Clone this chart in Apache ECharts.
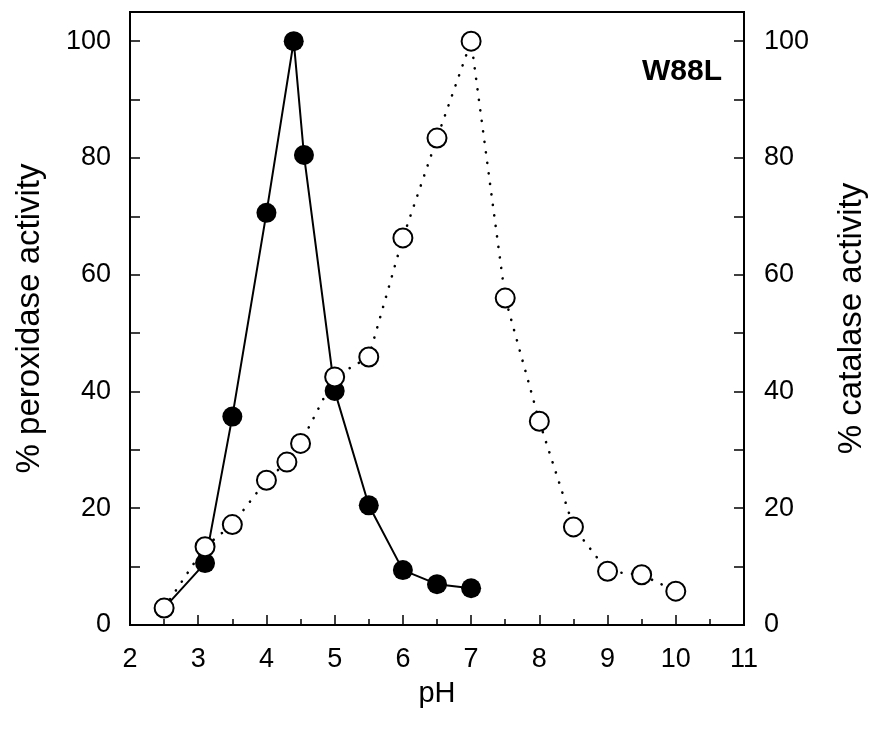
<!DOCTYPE html>
<html>
<head>
<meta charset="utf-8">
<script src="https://cdn.jsdelivr.net/npm/echarts@6/dist/echarts.min.js"></script>
<style>html,body{margin:0;padding:0;background:#fff;}#c{width:876px;height:745px;}</style>
</head>
<body>
<div id="c"></div>
<script>
const peroxPH = [2.5, 3.1, 3.5, 4.0, 4.4, 4.55, 5.0, 5.5, 6.0, 6.5, 7.0];
const peroxVal = [2.9, 10.6, 35.7, 70.6, 100, 80.5, 40.1, 20.5, 9.4, 7.0, 6.3];
const catPH = [2.5, 3.1, 3.5, 4.0, 4.3, 4.5, 5.0, 5.5, 6.0, 6.5, 7.0, 7.5, 8.0, 8.5, 9.0, 9.5, 10.0];
const catVal = [2.9, 13.4, 17.2, 24.8, 27.9, 31.1, 42.5, 45.9, 66.3, 83.4, 100, 56.0, 34.9, 16.8, 9.2, 8.6, 5.8];
const xTicks = [2, 3, 4, 5, 6, 7, 8, 9, 10, 11];
const yTicks = [0, 20, 40, 60, 80, 100];
const label = "W88L";

const font = "'Liberation Sans', Arial, Helvetica, sans-serif";
const chart = echarts.init(document.getElementById('c'), null, {renderer: 'canvas'});
const axisCommon = {
  axisLine: {show: true, onZero: false, lineStyle: {color: '#000', width: 2}},
  axisTick: {show: true, inside: true, length: 10, lineStyle: {color: '#000', width: 1.5}},
  minorTick: {show: true, splitNumber: 2, length: 6, lineStyle: {color: '#000', width: 1.5}},
  splitLine: {show: false},
  axisLabel: {color: '#000', fontSize: 27, fontFamily: font},
  nameTextStyle: {color: '#000', fontSize: 33, fontFamily: font}
};
const yAxisBase = (pos, name, gap) => Object.assign({}, axisCommon, {
  type: 'value', position: pos, min: 0, max: 105, interval: 10,
  name: name, nameLocation: 'middle', nameGap: gap,
  minorTick: {show: false},
  axisLabel: Object.assign({}, axisCommon.axisLabel, {
    margin: pos === 'left' ? 19 : 20,
    formatter: v => (yTicks.indexOf(v) >= 0 ? String(v) : '')
  })
});
chart.setOption({
  backgroundColor: '#fff',
  animation: false,
  grid: {left: 130, right: 132, top: 12, bottom: 120, show: true, borderColor: '#000', borderWidth: 2, containLabel: false},
  xAxis: Object.assign({}, axisCommon, {
    type: 'value', min: xTicks[0], max: xTicks[xTicks.length - 1], interval: 1,
    name: 'pH', nameLocation: 'middle', nameGap: 54,
    nameTextStyle: {color: '#000', fontSize: 29, fontFamily: font},
    axisLabel: Object.assign({}, axisCommon.axisLabel, {margin: 21})
  }),
  yAxis: [yAxisBase('left', '% peroxidase activity', 84), yAxisBase('right', '% catalase activity', 91)],
  graphic: [{
    type: 'text', right: 876 - 722, top: 57,
    style: {text: label, font: 'bold 30px ' + font, fill: '#000'}
  }],
  series: [
    {
      type: 'line', yAxisIndex: 0, z: 3,
      data: peroxPH.map((x, i) => [x, peroxVal[i]]),
      symbol: 'circle', symbolSize: 20,
      itemStyle: {color: '#000'},
      lineStyle: {color: '#000', width: 2}
    },
    {
      type: 'line', yAxisIndex: 0, z: 4,
      data: catPH.map((x, i) => [x, catVal[i]]),
      symbol: 'circle', symbolSize: 19,
      itemStyle: {color: '#fff', borderColor: '#000', borderWidth: 2},
      lineStyle: {color: '#000', width: 2.6, type: [0.1, 10.5], cap: 'round'}
    }
  ]
});
</script>
</body>
</html>
